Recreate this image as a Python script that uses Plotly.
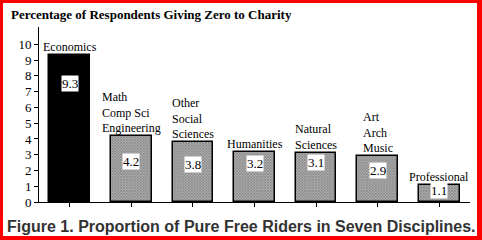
import plotly.graph_objects as go

categories = ["Economics", "Math<br>Comp Sci<br>Engineering", "Other<br>Social<br>Sciences",
              "Humanities", "Natural<br>Sciences", "Art<br>Arch<br>Music", "Professional"]
values = [9.3, 4.2, 3.8, 3.2, 3.1, 2.9, 1.1]
value_text = ["9.3", "4.2", "3.8", "3.2", "3.1", "2.9", "1.1"]
label_frac = [0.81, 0.61, 0.62, 0.77, 0.8, 0.7, 0.69]

W, H = 482, 240
ML, MR, MT, MB = 39, 12, 27, 38
PW, PH = W - ML - MR, H - MT - MB

x = list(range(len(values)))
serif = "Liberation Serif"

fig = go.Figure()
fig.add_trace(go.Bar(
    x=x[:1], y=values[:1], width=0.66,
    marker=dict(color="black", line=dict(color="black", width=1.5)),
    hoverinfo="skip"))
fig.add_trace(go.Bar(
    x=x[1:], y=values[1:], width=0.66,
    marker=dict(color="#9a9a9a", line=dict(color="black", width=1.5),
                pattern=dict(shape="x", size=2, solidity=0.5, fgcolor="#333333", bgcolor="#b4b4b4")),
    hoverinfo="skip"))

annotations = []
for i, (c, v, t, f) in enumerate(zip(categories, values, value_text, label_frac)):
    annotations.append(dict(x=i, y=v, text=c, showarrow=False, xanchor="center", yanchor="bottom",
                            align="left", yshift=0, borderpad=0,
                            font=dict(family=serif, size=12, color="black")))
    annotations.append(dict(x=i, y=v * f, text=t, showarrow=False, xanchor="center", yanchor="middle",
                            bgcolor="white", borderpad=0, font=dict(family=serif, size=13, color="black")))

def px(xp):
    return (xp - ML) / PW

def py(yp):
    return (H - MB - yp) / PH

annotations.append(dict(xref="paper", yref="paper", x=px(9), y=py(14), text="<b>Percentage of Respondents Giving Zero to Charity</b>",
                        showarrow=False, xanchor="left", yanchor="middle",
                        font=dict(family=serif, size=13, color="black")))
annotations.append(dict(xref="paper", yref="paper", x=px(241), y=py(226), text="<b>Figure 1. Proportion of Pure Free Riders in Seven Disciplines.</b>",
                        showarrow=False, xanchor="center", yanchor="middle",
                        font=dict(family="Liberation Sans", size=16, color="#333333")))

shapes = [dict(type="rect", xref="paper", yref="paper", x0=px(3), x1=px(477), y0=py(236), y1=py(3),
               fillcolor="white", line=dict(width=0), layer="below")]

fig.update_layout(
    width=W, height=H, margin=dict(l=ML, r=MR, t=MT, b=MB),
    paper_bgcolor="red", plot_bgcolor="rgba(0,0,0,0)",
    showlegend=False, bargap=0, barmode="overlay",
    annotations=annotations, shapes=shapes,
    xaxis=dict(range=[-0.5, 6.5], tickmode="array", tickvals=x, ticktext=[""] * len(x),
               tickson="boundaries", ticks="outside", ticklen=4, tickcolor="black",
               showline=True, linecolor="black", linewidth=1, showgrid=False, zeroline=False),
    yaxis=dict(range=[0, 11.1], tickvals=list(range(11)), ticks="outside", ticklen=4, tickcolor="black",
               showline=True, linecolor="black", linewidth=1, showgrid=False, zeroline=False,
               tickfont=dict(family=serif, size=13, color="black")),
)

fig.write_html("out.html")
